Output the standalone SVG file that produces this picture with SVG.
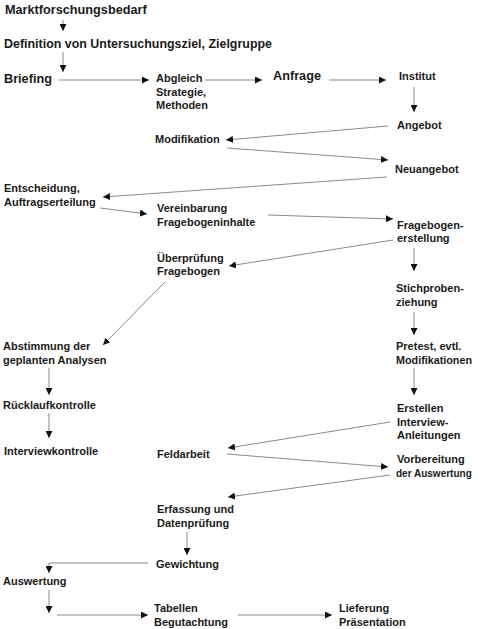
<svg xmlns="http://www.w3.org/2000/svg" width="478" height="629" viewBox="0 0 478 629">
<style>
text{font-family:"Liberation Sans",Arial,sans-serif;font-weight:bold;fill:#1a1a1a}
.b{font-size:12.7px}
.s{font-size:11px}
.c{stroke:#8a8a8a;stroke-width:1;fill:none;marker-end:url(#ah)}
</style>
<defs>
<marker id="ah" markerUnits="userSpaceOnUse" markerWidth="8" markerHeight="7" refX="7" refY="3.5" orient="auto">
<path d="M0,0 L7,3.5 L0,7 z" fill="#111"/>
</marker>
</defs>
<rect width="478" height="629" fill="#fff"/>
<g id="connectors">
<path class="c" d="M63,20 L63,31"/>
<path class="c" d="M63,52 L63,72"/>
<path class="c" d="M59,80 L149,80"/>
<path class="c" d="M205,80 L262,80"/>
<path class="c" d="M329,80 L386,80"/>
<path class="c" d="M414,87 L414,112"/>
<path class="c" d="M388,126 L226,140"/>
<path class="c" d="M227,148 L388,160"/>
<path class="c" d="M387,177 L103,197"/>
<path class="c" d="M100,208 L147,214"/>
<path class="c" d="M268,215 L393,219"/>
<path class="c" d="M393,240 L229,266"/>
<path class="c" d="M414,248 L414,271"/>
<path class="c" d="M165,282 L103,345"/>
<path class="c" d="M414,312 L414,335"/>
<path class="c" d="M49,368 L49,395"/>
<path class="c" d="M414,368 L414,395"/>
<path class="c" d="M49,413 L49,438"/>
<path class="c" d="M390,422 L228,448"/>
<path class="c" d="M227,454 L388,467"/>
<path class="c" d="M390,475 L228,497"/>
<path class="c" d="M187,532 L187,555"/>
<path class="c" d="M148,563 L49,563 L49,573"/>
<path class="c" d="M49,590 L49,613"/>
<path class="c" d="M57,615 L148,615"/>
<path class="c" d="M238,615 L332,615"/>
</g>
<g id="marktforschungsbedarf"><text class="b" x="5" y="14">Marktforschungsbedarf</text></g>
<g id="definition"><text class="b" x="4" y="48" textLength="268" lengthAdjust="spacingAndGlyphs">Definition von Untersuchungsziel, Zielgruppe</text></g>
<g id="briefing"><text class="b" x="4" y="83">Briefing</text></g>
<g id="abgleich"><text class="s" x="156" y="82">Abgleich</text><text class="s" x="156" y="95.5">Strategie,</text><text class="s" x="156" y="109">Methoden</text></g>
<g id="anfrage"><text class="b" x="273" y="80">Anfrage</text></g>
<g id="institut"><text class="s" x="399" y="80">Institut</text></g>
<g id="angebot"><text class="s" x="397" y="129">Angebot</text></g>
<g id="modifikation"><text class="s" x="155" y="143">Modifikation</text></g>
<g id="neuangebot"><text class="s" x="395" y="173">Neuangebot</text></g>
<g id="entscheidung"><text class="s" x="4" y="192">Entscheidung,</text><text class="s" x="4" y="205.5">Auftragserteilung</text></g>
<g id="vereinbarung"><text class="s" x="157" y="212">Vereinbarung</text><text class="s" x="157" y="225.5">Fragebogeninhalte</text></g>
<g id="fragebogenerstellung"><text class="s" x="397" y="228.5">Fragebogen-</text><text class="s" x="397" y="242">erstellung</text></g>
<g id="ueberpruefung"><text class="s" x="157" y="262">Überprüfung</text><text class="s" x="157" y="275">Fragebogen</text></g>
<g id="stichproben"><text class="s" x="396" y="292">Stichproben-</text><text class="s" x="396" y="305.5">ziehung</text></g>
<g id="abstimmung"><text class="s" x="3" y="350">Abstimmung der</text><text class="s" x="3" y="363.5">geplanten Analysen</text></g>
<g id="pretest"><text class="s" x="396" y="350">Pretest, evtl.</text><text class="s" x="396" y="363.5" textLength="76" lengthAdjust="spacingAndGlyphs">Modifikationen</text></g>
<g id="ruecklauf"><text class="s" x="3" y="409">Rücklaufkontrolle</text></g>
<g id="interviewkontrolle"><text class="s" x="4" y="455">Interviewkontrolle</text></g>
<g id="erstellen"><text class="s" x="397" y="412">Erstellen</text><text class="s" x="397" y="425.5">Interview-</text><text class="s" x="397" y="439">Anleitungen</text></g>
<g id="feldarbeit"><text class="s" x="157" y="458">Feldarbeit</text></g>
<g id="vorbereitung"><text class="s" x="397" y="463">Vorbereitung</text><text x="396" y="477" style="font-size:10px">der Auswertung</text></g>
<g id="erfassung"><text class="s" x="157" y="513">Erfassung und</text><text class="s" x="157" y="527">Datenprüfung</text></g>
<g id="gewichtung"><text class="s" x="156" y="568">Gewichtung</text></g>
<g id="auswertung"><text class="s" x="3" y="585">Auswertung</text></g>
<g id="tabellen"><text class="s" x="154" y="612">Tabellen</text><text class="s" x="154" y="626">Begutachtung</text></g>
<g id="lieferung"><text class="s" x="339" y="612">Lieferung</text><text class="s" x="339" y="626">Präsentation</text></g>
</svg>
